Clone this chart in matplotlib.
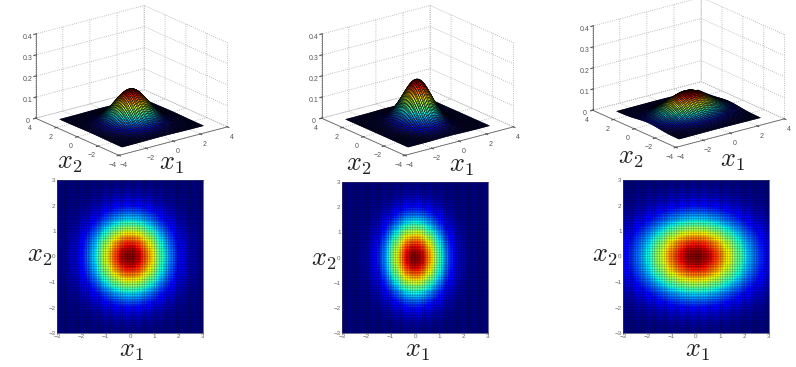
import numpy as np
import matplotlib
matplotlib.use('Agg')
import matplotlib.pyplot as plt

plt.rcParams['mathtext.fontset'] = 'cm'
plt.rcParams['font.family'] = ['Liberation Sans', 'DejaVu Sans']

# variances of x1 and x2
var_x1 = [1.0, 0.6, 2.0]
var_x2 = [1.0, 1.0, 1.0]

xy_ticks_3d = [-4, -2, 0, 2, 4]
z_ticks_3d = [0, 0.1, 0.2, 0.3, 0.4]
z_labels_3d = ['0', '0.1', '0.2', '0.3', '0.4']
ticks_2d = [-3, -2, -1, 0, 1, 2, 3]

W, H = 796, 367
surf_rects = [(-2, 178), (284, 178), (555, 170)]
img_rects = [(57, 180, 146, 153), (342, 182, 146, 151), (623, 180, 146, 153)]
label_x1_3d = [(171, 164), (461, 166), (732, 161)]
label_x2_3d = [(70, 163), (359, 165), (631, 158)]
label_x1_2d = [(131, 351), (417, 351), (697, 351)]
label_x2_2d = [(40, 256), (324, 260), (605, 256)]

fig = plt.figure(figsize=(W / 100, H / 100), dpi=100)

g = np.linspace(-3, 3, 61)
X, Y = np.meshgrid(g, g)


def density(v1, v2):
    return np.exp(-0.5 * (X ** 2 / v1 + Y ** 2 / v2)) / (2 * np.pi * np.sqrt(v1 * v2))


def put_label(s, px, py):
    fig.text(px / W, 1 - py / H, s, fontsize=19, ha='center', va='center', color='#222222')


for i in range(3):
    Z = density(var_x1[i], var_x2[i])

    # top row, 3d surface
    left, bottom = surf_rects[i]
    ax = fig.add_axes([left / W, 1 - bottom / H, 262 / W, 190 / H], projection='3d', proj_type='ortho')
    ax.patch.set_alpha(0)
    ax.set_box_aspect((139, 139, 91), zoom=1.09)
    ax.view_init(elev=20, azim=-127.5)
    ax.plot_surface(X, Y, Z, cmap='jet', vmin=0, vmax=Z.max(), rstride=1, cstride=1,
                    edgecolor='#000000', linewidth=0.3, shade=False, antialiased=True)
    ax.set_xlim(-4, 4)
    ax.set_ylim(-4, 4)
    ax.set_zlim(0, 0.4)
    ax.set_xticks(xy_ticks_3d)
    ax.set_yticks(xy_ticks_3d)
    ax.set_zticks(z_ticks_3d)
    ax.set_zticklabels(z_labels_3d)
    ax.tick_params(labelsize=5, colors='#555555', pad=-4, length=0)
    ax.tick_params(axis='z', pad=-5)
    for axis in (ax.xaxis, ax.yaxis, ax.zaxis):
        axis.set_pane_color((1, 1, 1, 0))
        axis.pane.set_edgecolor('#aaaaaa')
        axis.line.set_color('#666666')
        axis.line.set_linewidth(0.6)
        axis._axinfo['grid'].update(color='#aaaaaa', linewidth=0.6, linestyle=':')
    put_label('$x_1$', *label_x1_3d[i])
    put_label('$x_2$', *label_x2_3d[i])

    # bottom row, heat map
    l, t, w, h = img_rects[i]
    ax2 = fig.add_axes([l / W, 1 - (t + h) / H, w / W, h / H])
    ax2.pcolormesh(X, Y, Z, cmap='jet', vmin=0, vmax=Z.max(), shading='nearest', antialiased=False)
    vl = ax2.vlines(g, -3, 3, color='k', linewidth=0.4, alpha=0.3)
    hl = ax2.hlines(g, -3, 3, color='k', linewidth=0.4, alpha=0.3)
    vl.set_snap(False)
    hl.set_snap(False)
    ax2.set_xlim(-3, 3)
    ax2.set_ylim(-3, 3)
    ax2.set_xticks(ticks_2d)
    ax2.set_yticks(ticks_2d)
    ax2.tick_params(labelsize=4.5, colors='#666666', length=0, pad=1)
    for s in ax2.spines.values():
        s.set_linewidth(0.5)
        s.set_color('#333366')
    put_label('$x_1$', *label_x1_2d[i])
    put_label('$x_2$', *label_x2_2d[i])

fig.savefig('out.png', dpi=100)
